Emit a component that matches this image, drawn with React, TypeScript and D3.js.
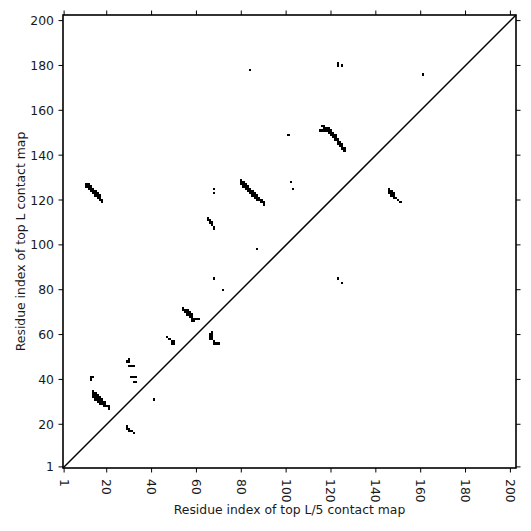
import React from "react";
import * as d3 from "d3";

// Protein length (residues)
const L = 202;

const tickValues = [1, 20, 40, 60, 80, 100, 120, 140, 160, 180, 200];
const xLabel = "Residue index of top L/5 contact map";
const yLabel = "Residue index of top L contact map";

// Top L contacts (upper-left triangle): [residue j (y), residues i (x)]
const topLRows: [number, number[]][] = [
  [127, [11, 12]], [126, [11, 12, 13]], [125, [12, 13, 14]], [124, [13, 14, 15]],
  [123, [14, 15, 16]], [122, [15, 16, 17]], [121, [16, 17]], [120, [17, 18]], [119, [18]],
  [41, [13, 14]], [40, [13]],
  [35, [14]], [34, [14, 15]], [33, [14, 15, 16]], [32, [14, 15, 16, 17]], [31, [15, 16, 17, 18]],
  [30, [16, 17, 18, 19]], [29, [17, 18, 19]], [28, [19, 20, 21]], [27, [21]],
  [49, [30]], [48, [29, 30]], [46, [30, 31, 32]], [41, [31, 32, 33]], [39, [32, 33]],
  [59, [47]], [58, [48]], [57, [49, 50]], [56, [49, 50]],
  [72, [54]], [71, [54, 55, 56]], [70, [55, 56, 57]], [69, [56, 57, 58]],
  [68, [57, 58]], [67, [58, 59, 60, 61]], [66, [58, 59]],
  [85, [68]], [80, [72]],
  [112, [65]], [111, [65, 66]], [110, [66, 67]], [109, [67]], [108, [68]], [107, [68]],
  [125, [68]], [123, [68]],
  [129, [80]], [128, [80, 81]], [127, [80, 81, 82]], [126, [81, 82, 83]],
  [125, [82, 83, 84]], [124, [83, 84, 85]], [123, [84, 85, 86]], [122, [85, 86, 87]],
  [121, [86, 87, 88]], [120, [87, 88, 89]], [119, [89, 90]], [118, [90]],
  [98, [87]], [178, [84]],
  [149, [101]], [128, [102]], [125, [103]],
  [153, [116, 117]], [152, [117, 118, 119]], [151, [115, 116, 117, 118, 119, 120]],
  [150, [119, 120, 121]], [149, [120, 121, 122]], [148, [121, 122]], [147, [122, 123]],
  [146, [123, 124]], [145, [123, 124, 125]], [144, [124, 125]], [143, [125, 126]], [142, [126]],
  [181, [123]], [180, [123, 125]],
  [125, [146]], [124, [146, 147]], [123, [146, 147, 148]], [122, [147, 148]],
  [121, [148, 149]], [120, [150]], [119, [151]],
  [176, [161]],
];

// Top L/5 contacts (lower-right triangle): [residue j (y), residues i (x)]
const topL5Rows: [number, number[]][] = [
  [19, [29]], [18, [29, 30]], [17, [30, 31]], [16, [32]],
  [31, [41]],
  [61, [67]], [60, [66, 67]], [59, [66, 67]], [58, [66, 67]], [57, [68]], [56, [68, 69, 70]],
  [85, [123]], [83, [125]],
];

const FONT = "'DejaVu Sans', sans-serif";
const FS = 12.4;

export default function App() {
  const W = 531, H = 531;
  const left = 63, right = 516, top = 15, bottom = 468;
  const x = d3.scaleLinear().domain([0.5, L + 0.5]).range([left, right]);
  const y = d3.scaleLinear().domain([0.5, L + 0.5]).range([bottom, top]);

  const cells = [...topLRows, ...topL5Rows].flatMap(([j, xs]) =>
    xs.map((i) => [i, j] as [number, number])
  );

  const diag = d3.line<number>().x((d) => x(d)).y((d) => y(d))([0.5, L + 0.5]) || "";
  const tickLen = 4.5;

  return (
    <svg
      width={W}
      height={H}
      style={{ position: "fixed", left: 0, top: 0, background: "#fff" }}
      fontFamily={FONT}
    >
      <rect x={0} y={0} width={W} height={H} fill="#fff" />
      <g shapeRendering="crispEdges">
        {cells.map(([i, j], k) => (
          <rect
            key={k}
            x={x(i - 0.5)}
            y={y(j + 0.5)}
            width={x(i + 0.5) - x(i - 0.5)}
            height={y(j - 0.5) - y(j + 0.5)}
            fill="#000"
          />
        ))}
      </g>
      <path d={diag} stroke="#000" strokeWidth={1.5} fill="none" />
      <rect
        x={left}
        y={top}
        width={right - left}
        height={bottom - top}
        fill="none"
        stroke="#000"
        strokeWidth={1.6}
      />
      {tickValues.map((t) => (
        <g key={"x" + t}>
          <line x1={x(t)} x2={x(t)} y1={bottom} y2={bottom + tickLen} stroke="#000" strokeWidth={1} />
          <line x1={x(t)} x2={x(t)} y1={top} y2={top - tickLen} stroke="#000" strokeWidth={1} />
          <text
            transform={`translate(${x(t)},${bottom + 11}) rotate(90)`}
            fontSize={FS}
            dominantBaseline="central"
            textAnchor="start"
            fill="#1a1a1a"
          >
            {t}
          </text>
        </g>
      ))}
      {tickValues.map((t) => (
        <g key={"y" + t}>
          <line x1={left} x2={left - tickLen} y1={y(t)} y2={y(t)} stroke="#000" strokeWidth={1} />
          <line x1={right} x2={right + tickLen} y1={y(t)} y2={y(t)} stroke="#000" strokeWidth={1} />
          <text
            x={left - 9}
            y={y(t)}
            fontSize={FS}
            dominantBaseline="central"
            textAnchor="end"
            fill="#1a1a1a"
          >
            {t}
          </text>
        </g>
      ))}
      <text x={(left + right) / 2} y={514} fontSize={FS} textAnchor="middle" fill="#1a1a1a">
        {xLabel}
      </text>
      <text
        transform={`translate(25,${(top + bottom) / 2}) rotate(-90)`}
        fontSize={FS}
        textAnchor="middle"
        fill="#1a1a1a"
      >
        {yLabel}
      </text>
    </svg>
  );
}
